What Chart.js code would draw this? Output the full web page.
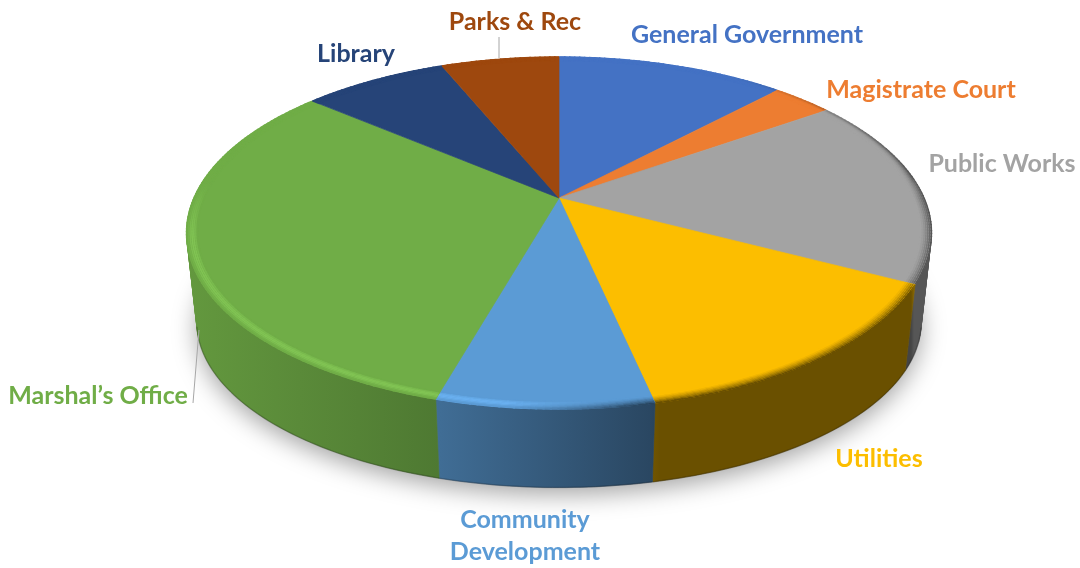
<!DOCTYPE html>
<html>
<head>
<meta charset="utf-8">
<title>Budget by department</title>
<script src="https://cdn.jsdelivr.net/npm/chart.js@4/dist/chart.umd.js"></script>
<style>
  html, body { margin: 0; background: #fff; overflow: hidden; }
  canvas { display: block; }
</style>
</head>
<body>
<canvas id="pie" width="1080" height="568"></canvas>
<script>
const departments = ["General Government", "Magistrate Court", "Public Works", "Utilities",
  "Community Development", "Marshal’s Office", "Library", "Parks & Rec"];
const shares = [12.0, 3.2, 17.5, 13.9, 7.8, 31.8, 7.6, 6.2];
const sliceColors = ["#4472C4", "#ED7D31", "#A3A3A3", "#FCBE00", "#5B9BD5", "#70AD47", "#264478", "#9E480E"];

// label text, split in lines, with its centre on the page
const labelLines = [["General Government"], ["Magistrate Court"], ["Public Works"], ["Utilities"],
  ["Community", "Development"], ["Marshal’s Office"], ["Library"], ["Parks & Rec"]];
const labelSpots = [[747, 35], [921, 90], [1002, 164], [879, 459], [525, 520], [98, 396], [356, 54], [515, 22]];
const leaderLines = [[499, 37, 499, 58], [193, 403, 199, 330]];

// camera: top face and bottom face of the disc, k is the perspective strength
const topFace = { cx: 559, cy: 198, b: 365, a: 169, k: 0.199 };
const baseFace = { cx: 559, cy: 289, b: 355, a: 159, k: 0.199 };

function project(face, angle, r) {
  const X = Math.cos(angle) * r, Y = Math.sin(angle) * r;
  const d = 1 - face.k * Y;
  return [face.cx + face.b * X / d, face.cy + face.a * Y / d];
}

function rgb(hex) {
  return [1, 3, 5].map(i => parseInt(hex.slice(i, i + 2), 16));
}
function mix(c1, c2, t) {
  return c1.map((v, i) => v + (c2[i] - v) * t);
}
function css(c) {
  return `rgb(${c.map(v => Math.min(255, Math.round(v))).join(",")})`;
}
function clamp01(v) {
  return Math.max(0, Math.min(1, v));
}

// how much the side wall is darkened along the page width
const shadeStops = [[190, 0.88], [300, 0.8], [440, 0.7], [650, 0.46], [660, 0.42], [911, 0.42], [914, 0.53], [935, 0.53]];
function shadeAt(x) {
  if (x <= shadeStops[0][0]) return shadeStops[0][1];
  for (let i = 1; i < shadeStops.length; i++) {
    const [x0, s0] = shadeStops[i - 1], [x1, s1] = shadeStops[i];
    if (x <= x1) return s0 + (s1 - s0) * (x - x0) / (x1 - x0);
  }
  return shadeStops[shadeStops.length - 1][1];
}

class TiltedArc extends Chart.ArcElement {
  draw(ctx) {
    const { startAngle, endAngle } = this;
    const color = this.options.backgroundColor;
    const steps = Math.ceil((endAngle - startAngle) * 60);

    ctx.save();
    ctx.beginPath();
    ctx.moveTo(topFace.cx, topFace.cy);
    for (let i = 0; i <= steps; i++) {
      const [x, y] = project(topFace, startAngle + (endAngle - startAngle) * i / steps, 1);
      ctx.lineTo(x, y);
    }
    ctx.closePath();
    ctx.fillStyle = color;
    ctx.fill();
    // closes the hairline between neighbouring slices
    ctx.strokeStyle = color;
    ctx.lineWidth = 0.7;
    ctx.stroke();

    // rounded rim: brighter on the left and front, falling into the wall on the right
    const base = rgb(color);
    const rings = 7;
    ctx.lineWidth = 1.5;
    for (let j = 0; j < rings; j++) {
      const t = j / (rings - 1);
      const r = 0.972 + 0.028 * t;
      for (let i = 0; i < steps; i++) {
        const a0 = startAngle + (endAngle - startAngle) * i / steps;
        const a1 = startAngle + (endAngle - startAngle) * (i + 1.3) / steps;
        const p0 = project(topFace, a0, r), p1 = project(topFace, Math.min(a1, endAngle), r);
        const light = clamp01((640 - p0[0]) / 130);
        const lit = base.map(v => v * 1.1 + 6);
        const wall = base.map(v => v * shadeAt(p0[0]));

        // the bright part dies out at the side, the dark part only thins out towards the back
        const litAmount = light * clamp01((Math.sin(a0) + 0.08) / 0.3) * Math.sin(Math.PI * Math.min(1, t * 1.1));
        const darkFade = clamp01((Math.sin(a0) + 0.85) / 0.85);
        const darkPow = Math.sin(a0) > 0 ? 1.4 : 1.4 + 6 * -Math.sin(a0);
        const darkAmount = (1 - light) * darkFade * Math.pow(t, darkPow);
        ctx.strokeStyle = css(mix(mix(base, lit, litAmount), wall, darkAmount));
        ctx.beginPath();
        ctx.moveTo(p0[0], p0[1]);
        ctx.lineTo(p1[0], p1[1]);
        ctx.stroke();
      }
    }
    ctx.restore();
  }
}
TiltedArc.id = "tiltedArc";

class TiltedPie extends Chart.PieController {}
TiltedPie.id = "tiltedPie";
TiltedPie.defaults = { dataElementType: "tiltedArc" };

Chart.register(TiltedArc, TiltedPie);

function baseOutline(ctx) {
  ctx.beginPath();
  for (let i = 0; i <= 180; i++) {
    const [x, y] = project(baseFace, i / 180 * Math.PI * 2, 1);
    if (i === 0) ctx.moveTo(x, y); else ctx.lineTo(x, y);
  }
  ctx.closePath();
}

// soft ground shadow and the side wall of every slice, under the arcs
const wallPlugin = {
  id: "wall",
  beforeDatasetsDraw(chart) {
    const ctx = chart.ctx;
    const arcs = chart.getDatasetMeta(0).data;

    ctx.save();
    ctx.shadowColor = "rgba(0,0,0,0.36)";
    ctx.shadowBlur = 24;
    ctx.shadowOffsetY = 7;
    ctx.fillStyle = "#888";
    baseOutline(ctx);
    ctx.fill();
    ctx.restore();

    arcs.forEach((arc, n) => {
      const base = rgb(sliceColors[n]);
      const steps = Math.ceil((arc.endAngle - arc.startAngle) * 60);
      const angles = [];
      for (let i = 0; i <= steps; i++) {
        angles.push(arc.startAngle + (arc.endAngle - arc.startAngle) * i / steps);
      }
      const grad = ctx.createLinearGradient(180, 0, 940, 0);
      shadeStops.forEach(([x, s]) => {
        grad.addColorStop(clamp01((x - 180) / 760), css(base.map(v => v * s)));
      });
      ctx.fillStyle = grad;
      ctx.strokeStyle = grad;
      ctx.lineWidth = 0.6;

      // the front part is one polygon; near the silhouette it would fold over itself, so quads there
      const front = angles.filter(a => Math.sin(a) > 0.3);
      if (front.length > 1) {
        ctx.beginPath();
        front.forEach((a, i) => {
          const [x, y] = project(topFace, a, 1);
          if (i) ctx.lineTo(x, y); else ctx.moveTo(x, y);
        });
        front.slice().reverse().forEach(a => {
          const [x, y] = project(baseFace, a, 1);
          ctx.lineTo(x, y);
        });
        ctx.closePath();
        ctx.fill();
        ctx.stroke();
      }
      for (let i = 0; i < steps; i++) {
        const a0 = angles[i], a1 = angles[i + 1];
        if (Math.sin(a0) > 0.3 && Math.sin(a1) > 0.3) continue;
        if (Math.sin(a0) < -0.4 && Math.sin(a1) < -0.4) continue;
        const q = [project(topFace, a0, 1), project(topFace, a1, 1), project(baseFace, a1, 1), project(baseFace, a0, 1)];
        ctx.beginPath();
        q.forEach(([x, y], m) => (m ? ctx.lineTo(x, y) : ctx.moveTo(x, y)));
        ctx.closePath();
        ctx.fill();
        ctx.stroke();
      }

      // slightly darker lip where the wall meets the ground, on the visible side only
      const lip = angles.filter(a => Math.sin(a) > 0.22);
      if (lip.length > 1) {
        ctx.beginPath();
        lip.forEach((a, i) => {
          const [x, y] = project(baseFace, a, 1);
          if (i) ctx.lineTo(x, y); else ctx.moveTo(x, y);
        });
        ctx.strokeStyle = "rgba(0,0,0,0.2)";
        ctx.lineWidth = 1.5;
        ctx.stroke();
      }
    });
  }
};

const labelPlugin = {
  id: "sliceLabels",
  afterDatasetsDraw(chart) {
    const ctx = chart.ctx;
    ctx.save();
    ctx.strokeStyle = "#A6A6A6";
    ctx.lineWidth = 1;
    leaderLines.forEach(([x0, y0, x1, y1]) => {
      ctx.beginPath();
      ctx.moveTo(x0, y0);
      ctx.lineTo(x1, y1);
      ctx.stroke();
    });
    ctx.font = "bold 25px Lato";
    ctx.textAlign = "center";
    ctx.textBaseline = "middle";
    labelLines.forEach((lines, n) => {
      ctx.fillStyle = sliceColors[n];
      lines.forEach((line, i) => {
        ctx.fillText(line, labelSpots[n][0], labelSpots[n][1] + i * 32);
      });
    });
    ctx.restore();
  }
};

new Chart(document.getElementById("pie"), {
  type: "tiltedPie",
  data: {
    labels: departments,
    datasets: [{ data: shares, backgroundColor: sliceColors, borderWidth: 0 }]
  },
  options: {
    responsive: false,
    animation: false,
    plugins: { legend: { display: false }, tooltip: { enabled: false } }
  },
  plugins: [wallPlugin, labelPlugin]
});
</script>
</body>
</html>
